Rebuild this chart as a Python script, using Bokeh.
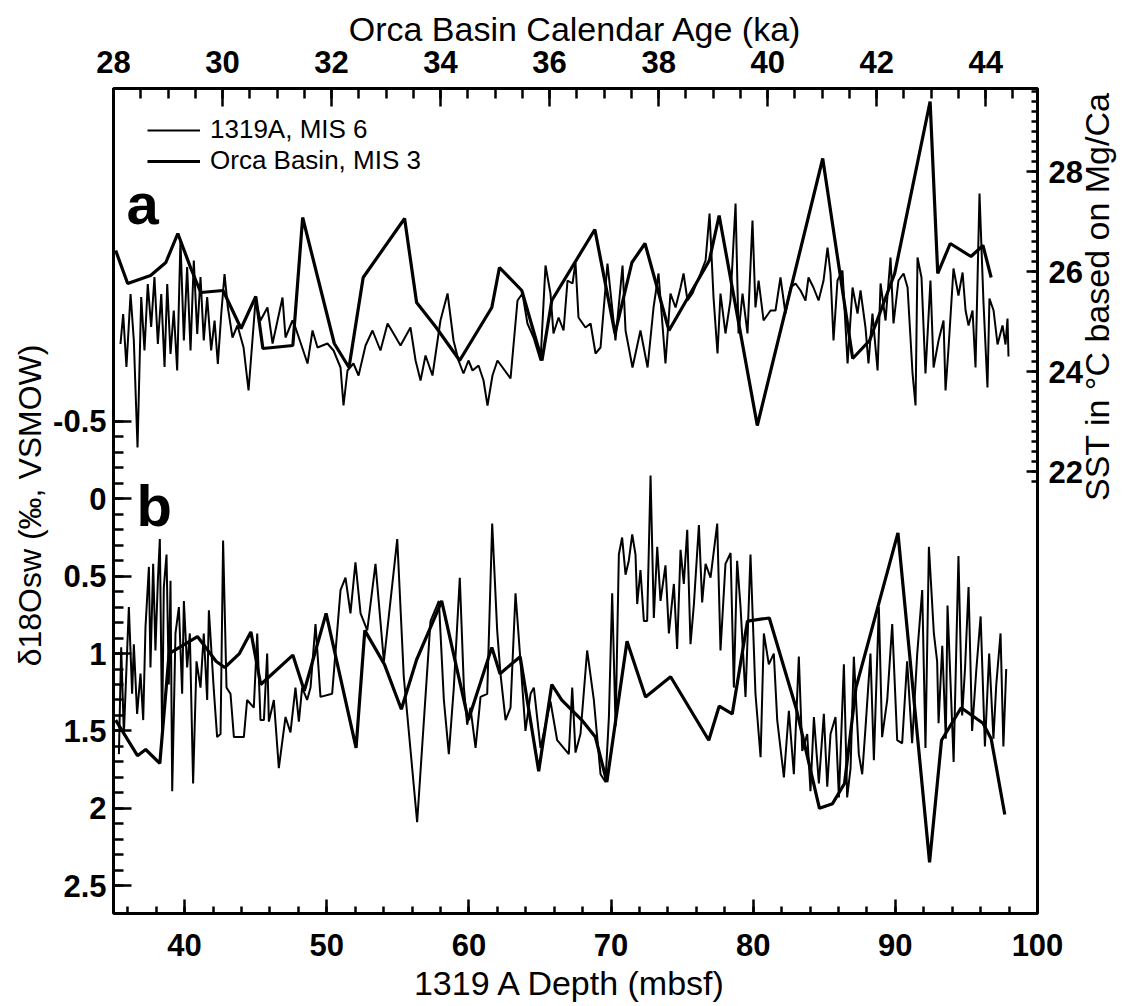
import math
import numpy as np
from bokeh.plotting import figure
from bokeh.models import Range1d, LinearAxis, Label, Legend, LegendItem, FixedTicker
from bokeh.embed import file_html
from bokeh.resources import INLINE

# ---------------- data ----------------
# Panel a: 1319A (MIS 6) SST vs depth (mbsf)
sst1319_depth = [35.49, 35.68, 35.91, 36.20, 36.43, 36.69, 36.95, 37.18, 37.41, 37.65, 37.88, 38.12,
                 38.36, 38.59, 38.78, 39.01, 39.24, 39.48, 39.71, 39.95, 40.18, 40.42, 40.65, 40.89,
                 41.12, 41.35, 41.59, 41.87, 42.11, 42.34, 42.58, 42.81, 43.04, 43.37, 43.72, 44.15,
                 44.50, 44.99, 45.34, 45.83, 46.19, 46.54, 46.89, 47.10, 47.59, 47.80, 48.65, 49.00,
                 49.35, 50.05, 50.48, 50.97, 51.18, 51.46, 51.88, 52.24, 52.73, 53.22, 53.78, 54.28,
                 54.70, 55.19, 55.89, 56.25, 56.60, 56.95, 57.44, 58.00, 58.50, 58.92, 59.27, 59.62,
                 59.97, 60.26, 60.68, 61.03, 61.31, 61.66, 62.01, 62.93, 63.42, 63.77, 64.12, 64.55,
                 65.04, 65.39, 65.74, 65.95, 66.31, 66.66, 66.94, 67.29, 67.50, 67.71, 68.20, 68.56,
                 68.91, 69.26, 69.75, 70.10, 70.31, 70.81, 71.02, 71.51, 72.07, 72.57, 72.99, 73.34,
                 73.83, 74.18, 74.54, 74.89, 75.10, 75.38, 75.73, 76.29, 76.65, 76.93, 77.21, 77.49,
                 77.70, 78.05, 78.40, 78.76, 78.97, 79.25, 79.60, 79.95, 80.16, 80.38, 80.73, 81.22,
                 81.57, 81.92, 82.27, 82.63, 82.98, 83.33, 83.68, 83.89, 84.24, 84.60, 84.95, 85.23,
                 85.44, 85.65, 85.93, 86.28, 86.64, 86.99, 87.34, 87.55, 87.90, 88.11, 88.39, 88.75,
                 88.96, 89.31, 89.66, 89.87, 90.22, 90.58, 90.86, 91.21, 91.42, 91.56, 91.84, 92.12,
                 92.47, 92.69, 93.04, 93.39, 93.53, 93.74, 94.09, 94.44, 94.73, 94.94, 95.15, 95.43,
                 95.64, 95.92, 96.20, 96.48, 96.62, 96.91, 97.19, 97.54, 97.75, 97.89, 97.96]
sst1319_val = [24.55, 25.15, 24.09, 25.55, 24.62, 22.48, 25.49, 24.42, 25.75, 24.89, 25.89, 24.55,
               25.55, 24.09, 25.75, 24.35, 25.22, 24.02, 26.62, 24.62, 26.09, 24.42, 26.22, 24.75,
               25.89, 24.62, 25.49, 24.42, 25.02, 24.15, 25.15, 25.95, 25.29, 24.68, 24.92, 24.48,
               23.62, 25.42, 25.02, 25.28, 24.56, 25.02, 25.48, 24.68, 25.02, 24.88, 24.16, 24.82,
               24.48, 24.56, 24.42, 24.08, 23.32, 24.02, 24.16, 23.92, 24.52, 24.82, 24.42, 24.96,
               24.76, 24.52, 24.88, 24.22, 23.82, 24.32, 23.92, 25.02, 25.56, 24.62, 24.22, 23.96,
               24.22, 24.02, 24.12, 23.82, 23.32, 23.92, 24.22, 23.86, 25.42, 25.56, 24.96, 24.68,
               24.22, 26.12, 25.56, 24.76, 25.08, 24.82, 25.82, 25.76, 26.18, 25.08, 24.88, 24.96,
               24.36, 24.48, 26.16, 25.22, 24.62, 26.12, 24.82, 24.08, 24.82, 24.08, 25.28, 25.96,
               24.16, 25.56, 25.28, 25.68, 25.96, 25.42, 25.56, 25.96, 26.22, 27.16, 25.48, 24.36,
               25.56, 24.76, 25.42, 27.36, 24.76, 25.56, 24.76, 27.02, 25.28, 25.82, 25.02, 25.22,
               25.22, 25.88, 25.16, 25.68, 25.76, 25.62, 25.42, 25.88, 25.68, 25.42, 25.82, 26.48,
               25.96, 24.62, 25.82, 26.02, 24.16, 25.68, 25.16, 25.62, 24.88, 24.16, 25.16, 24.02,
               25.76, 25.02, 26.28, 24.96, 25.82, 25.96, 25.68, 23.96, 23.32, 26.28, 25.88, 23.96,
               25.82, 24.08, 24.62, 25.02, 23.62, 24.46, 26.06, 25.52, 25.98, 25.22, 24.92, 25.22,
               24.08, 27.56, 25.38, 23.68, 25.46, 25.22, 24.54, 24.92, 24.54, 25.06, 24.30]

# Panel a: Orca Basin (MIS 3) SST vs calendar age (ka)
sstorca_age = [28.04, 28.26, 28.68, 28.96, 29.18, 29.42, 29.60, 30.01, 30.34, 30.61, 30.74, 31.29,
               31.47, 32.05, 32.32, 32.58, 33.34, 33.56, 33.92, 34.35, 34.94, 35.08, 35.49, 35.86,
               36.04, 36.83, 37.20, 37.51, 37.75, 38.19, 38.93, 39.11, 39.81, 41.01, 41.56, 41.87,
               42.33, 42.98, 43.12, 43.35, 43.73, 43.95, 44.10]
sstorca_val = [26.42, 25.76, 25.92, 26.18, 26.76, 26.06, 25.58, 25.62, 24.86, 25.50, 24.46, 24.52,
               27.08, 24.56, 24.08, 25.88, 27.06, 25.38, 24.88, 24.22, 25.28, 26.08, 25.62, 24.22,
               25.42, 26.84, 24.76, 26.18, 26.56, 24.82, 26.22, 27.12, 22.92, 28.26, 24.26, 24.62,
               25.96, 29.40, 25.96, 26.56, 26.30, 26.52, 25.88]

# Panel b: 1319A (MIS 6) d18Osw vs depth (mbsf)
d18_1319_depth = [35.38, 35.54, 35.73, 36.08, 36.31, 36.43, 36.66, 36.90, 37.09, 37.25, 37.49, 37.60,
                  37.79, 37.95, 38.12, 38.26, 38.42, 38.54, 38.73, 38.89, 39.01, 39.13, 39.36, 39.60,
                  39.83, 39.95, 40.18, 40.37, 40.60, 40.84, 41.12, 41.35, 41.59, 41.71, 42.06, 42.29,
                  42.53, 42.71, 42.95, 43.23, 43.47, 44.17, 44.40, 44.87, 45.11, 45.34, 45.58, 45.81,
                  45.93, 46.28, 46.63, 47.10, 47.45, 47.80, 48.04, 48.27, 48.62, 48.86, 49.21, 49.56,
                  50.38, 50.97, 51.32, 51.67, 52.02, 52.38, 52.85, 53.43, 54.02, 54.96, 55.42, 56.36,
                  57.30, 57.89, 58.24, 58.59, 58.94, 59.36, 59.65, 59.88, 60.11, 60.47, 60.82, 61.29,
                  61.64, 61.99, 62.22, 62.58, 62.93, 63.28, 63.63, 63.98, 64.34, 64.57, 65.04, 65.74,
                  66.21, 67.03, 67.27, 67.50, 67.85, 68.32, 68.79, 69.26, 69.61, 69.85, 70.08, 70.32,
                  70.55, 70.78, 71.02, 71.25, 71.49, 71.72, 71.84, 72.07, 72.31, 72.54, 72.78, 73.01,
                  73.25, 73.48, 73.83, 74.07, 74.42, 74.65, 74.89, 75.12, 75.36, 75.59, 75.83, 76.18,
                  76.41, 76.65, 77.00, 77.47, 77.70, 78.05, 78.41, 78.64, 78.87, 79.11, 79.46, 79.81,
                  80.16, 80.52, 80.75, 81.10, 81.45, 81.69, 82.16, 82.51, 82.86, 83.21, 83.45, 83.80,
                  84.03, 84.27, 84.62, 84.97, 85.21, 85.44, 85.79, 86.03, 86.38, 86.61, 86.85, 87.08,
                  87.43, 87.67, 87.90, 88.25, 88.49, 88.84, 89.07, 89.43, 89.78, 90.13, 90.48, 90.83,
                  91.18, 91.54, 91.89, 92.12, 92.36, 92.71, 92.94, 93.04, 93.30, 93.55, 93.67, 94.10,
                  94.44, 94.70, 94.90, 95.15, 95.40, 95.70, 96.00, 96.30, 96.60, 96.90, 97.10, 97.40,
                  97.60, 97.80]
d18_1319_val = [1.65, 0.96, 1.52, 0.70, 1.26, 0.94, 1.39, 1.13, 1.43, 0.83, 0.44, 1.09,
                0.42, 0.98, 0.53, 0.26, 1.52, 0.57, 0.36, 1.20, 0.53, 1.89, 0.87, 0.70,
                1.26, 0.66, 1.09, 0.87, 1.84, 1.05, 1.22, 0.87, 1.30, 0.72, 1.24, 1.54,
                1.52, 0.27, 1.22, 1.26, 1.54, 1.54, 1.30, 1.35, 0.87, 1.43, 1.43, 1.00,
                1.44, 1.30, 1.74, 1.41, 1.51, 1.22, 1.44, 1.22, 1.30, 1.22, 0.81, 1.28,
                1.26, 0.59, 0.51, 0.74, 0.41, 0.74, 0.85, 0.42, 1.05, 0.26, 1.15, 2.09,
                0.79, 0.66, 1.30, 1.65, 1.22, 0.51, 1.22, 1.46, 1.35, 1.61, 1.28, 1.26,
                0.16, 0.85, 1.13, 1.43, 1.35, 0.61, 1.05, 1.50, 1.26, 1.22, 1.61, 1.31,
                1.56, 1.65, 1.22, 1.64, 1.52, 0.98, 1.30, 1.78, 1.83, 1.41, 0.61, 1.47,
                0.36, 0.25, 0.49, 0.40, 0.23, 0.36, 0.68, 0.46, 0.79, 0.79, -0.15, 0.77,
                0.31, 0.66, 0.43, 0.87, 0.55, 0.97, 0.33, 0.55, 0.20, 0.94, 0.68, 0.17,
                0.67, 0.42, 0.51, 0.16, 0.98, 0.42, 0.35, 1.22, 0.40, 0.70, 1.28, 0.36,
                1.26, 1.67, 0.87, 1.07, 1.00, 1.43, 1.80, 1.37, 1.78, 1.02, 1.63, 1.52,
                1.89, 1.41, 1.84, 1.39, 1.86, 1.52, 1.41, 1.93, 1.07, 1.93, 1.74, 1.02,
                1.65, 1.78, 1.48, 1.00, 1.69, 0.70, 1.54, 1.30, 0.81, 1.56, 1.58, 1.05,
                1.58, 1.00, 0.59, 1.61, 0.31, 0.87, 1.05, 1.45, 0.95, 1.55, 0.69, 1.70,
                0.37, 1.40, 1.10, 0.57, 1.50, 1.10, 0.76, 1.60, 1.00, 1.55, 1.20, 0.87,
                1.60, 1.10]

# Panel b: Orca Basin (MIS 3) d18Osw vs calendar age (ka)
d18orca_age = [28.04, 28.44, 28.59, 28.85, 29.02, 29.54, 29.88, 30.04, 30.31, 30.52, 30.70, 31.29,
               31.50, 31.90, 32.45, 32.61, 32.97, 33.28, 33.56, 33.89, 34.02, 34.51, 34.94, 35.09,
               35.46, 35.80, 36.04, 36.22, 36.59, 36.84, 37.05, 37.42, 37.76, 38.22, 38.92, 39.11,
               39.35, 39.63, 40.03, 40.52, 40.95, 41.19, 41.41, 41.62, 42.39, 42.97, 43.19, 43.55,
               43.95, 44.10, 44.35]
d18orca_val = [1.43, 1.66, 1.62, 1.71, 1.00, 0.89, 1.05, 1.09, 1.00, 0.86, 1.20, 1.01,
               1.24, 0.74, 1.61, 0.85, 1.07, 1.36, 1.04, 0.77, 0.66, 1.43, 0.96, 1.13,
               1.02, 1.76, 1.20, 1.30, 1.43, 1.54, 1.83, 0.92, 1.28, 1.15, 1.56, 1.34,
               1.39, 0.79, 0.77, 1.35, 2.00, 1.97, 1.84, 1.22, 0.22, 2.35, 1.56, 1.35,
               1.45, 1.55, 2.04]

series_labels = ["1319A, MIS 6", "Orca Basin, MIS 3"]
depth_ticks = [40, 50, 60, 70, 80, 90, 100]
age_ticks = [28, 30, 32, 34, 36, 38, 40, 42, 44]
d18_ticks = [-0.5, 0, 0.5, 1, 1.5, 2, 2.5]
d18_tick_text = ["-0.5", "0", "0.5", "1", "1.5", "2", "2.5"]
sst_ticks = [22, 24, 26, 28]

# ---------------- layout ----------------
W, H = 1140, 1006
FL, FR, FT, FB = 113, 1037, 88, 913
DEPTH_RANGE = (35, 100)
AGE_RANGE = (28, 44.95)
D18_RANGE = (2.68, -2.652)      # (bottom, top): axis runs downward
SST_RANGE = (13.16, 29.66)

FONT = "Liberation Sans"


def px_to_depth(px):
    return DEPTH_RANGE[0] + (px - FL) * (DEPTH_RANGE[1] - DEPTH_RANGE[0]) / (FR - FL)


def py_to_d18(py):
    return D18_RANGE[1] + (py - FT) * (D18_RANGE[0] - D18_RANGE[1]) / (FB - FT)


p = figure(width=W, height=H, output_backend="svg", toolbar_location=None,
           x_range=Range1d(*DEPTH_RANGE), y_range=Range1d(*D18_RANGE),
           min_border_left=FL, min_border_right=W - FR,
           min_border_top=FT, min_border_bottom=H - FB)
p.extra_x_ranges = {"age": Range1d(*AGE_RANGE)}
p.extra_y_ranges = {"sst": Range1d(*SST_RANGE)}
p.xgrid.visible = False
p.ygrid.visible = False
p.outline_line_color = "black"
p.outline_line_width = 3
p.background_fill_color = "white"
p.border_fill_color = "white"


def style_axis(ax, major_in, minor_in, size="31px", title_size="34px"):
    ax.major_tick_in = major_in
    ax.major_tick_out = 0
    ax.minor_tick_in = minor_in
    ax.minor_tick_out = 0
    ax.major_tick_line_width = 2.5
    ax.minor_tick_line_width = 2.5
    ax.major_tick_line_color = "black"
    ax.minor_tick_line_color = "black"
    ax.axis_line_color = None
    ax.major_label_text_font = FONT
    ax.major_label_text_font_style = "bold"
    ax.major_label_text_font_size = size
    ax.major_label_text_color = "black"
    ax.axis_label_text_font = FONT
    ax.axis_label_text_font_style = "normal"
    ax.axis_label_text_font_size = title_size
    ax.axis_label_text_color = "black"


# bottom axis: depth
xb = p.below[0]
xb.ticker = FixedTicker(ticks=depth_ticks, minor_ticks=list(range(36, 100, 2)))
style_axis(xb, 14, 7)
xb.major_label_standoff = 20
xb.axis_label = "1319 A Depth  (mbsf)"
xb.axis_label_standoff = 5

# left axis: d18O
yl = p.left[0]
yl.ticker = FixedTicker(ticks=d18_ticks, minor_ticks=[round(v, 1) for v in np.arange(-0.5, 2.51, 0.1)])
yl.bounds = (-0.5, 2.5)
style_axis(yl, 18, 10, title_size="32px")
yl.major_label_standoff = 7
yl.major_label_overrides = {t: s for t, s in zip(d18_ticks, d18_tick_text)}
yl.axis_label = "δ18Osw (‰,  VSMOW)"
yl.axis_label_standoff = 2

# top axis: age
xt = LinearAxis(x_range_name="age")
xt.ticker = FixedTicker(ticks=age_ticks, minor_ticks=[round(v, 1) for v in np.arange(28, 44.6, 0.5)])
style_axis(xt, 18, 10)
xt.major_label_standoff = 16
xt.axis_label = "Orca Basin Calendar Age (ka)"
xt.axis_label_standoff = 0
p.add_layout(xt, "above")

# right axis: SST
yr = LinearAxis(y_range_name="sst")
yr.ticker = FixedTicker(ticks=sst_ticks, minor_ticks=[round(v, 1) for v in np.arange(21.8, 29.61, 0.2)])
yr.bounds = (21.8, SST_RANGE[1])
style_axis(yr, 11, 6, title_size="34px")
yr.major_label_standoff = 11
yr.axis_label = "SST in °C based on Mg/Ca"
yr.axis_label_standoff = 11
try:
    yr.axis_label_orientation = math.pi / 2   # read bottom-to-top like the original
except Exception:
    pass
p.add_layout(yr, "right")

# ---------------- lines ----------------
r_a1 = p.line(sst1319_depth, sst1319_val, y_range_name="sst",
              line_color="black", line_width=2.0)
r_a2 = p.line(sstorca_age, sstorca_val, x_range_name="age", y_range_name="sst",
              line_color="black", line_width=3.2)
p.line(d18_1319_depth, d18_1319_val, line_color="black", line_width=2.0)
p.line(d18orca_age, d18orca_val, x_range_name="age", line_color="black", line_width=3.2)

legend = Legend(items=[LegendItem(label=series_labels[0], renderers=[r_a1]),
                       LegendItem(label=series_labels[1], renderers=[r_a2])],
                location=(34, 737))
legend.glyph_width = 53
legend.glyph_height = 20
legend.label_standoff = 10
legend.padding = 0
legend.margin = 0
legend.spacing = 0
legend.border_line_color = None
legend.background_fill_alpha = 0
legend.label_text_font = FONT
legend.label_text_font_size = "26px"
legend.label_text_color = "black"
p.add_layout(legend)

# panel letters
for txt, px, py in [("a", 126, 203), ("b", 136, 505)]:
    p.add_layout(Label(x=px_to_depth(px), y=py_to_d18(py), text=txt,
                       text_font=FONT, text_font_style="bold", text_font_size="58px",
                       text_baseline="alphabetic", text_align="left", text_color="black"))

open("out.html", "w").write(file_html(p, INLINE))
